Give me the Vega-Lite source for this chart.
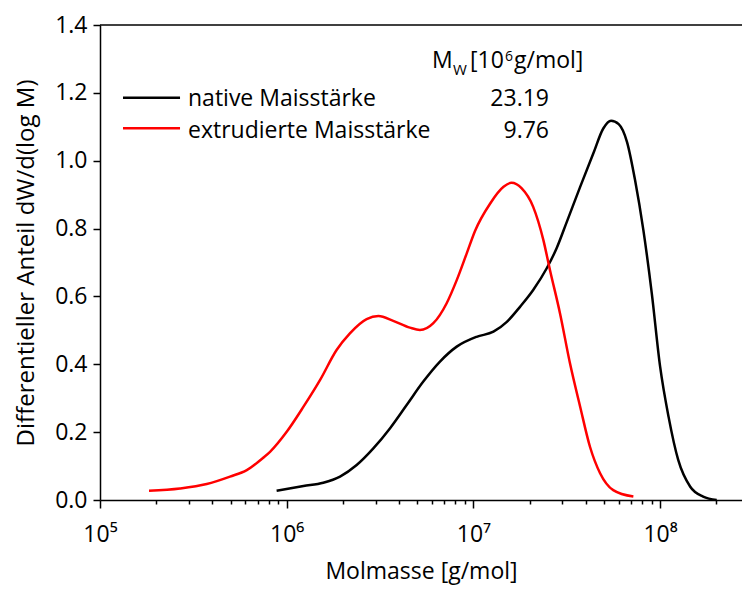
{
  "$schema": "https://vega.github.io/schema/vega-lite/v6.json",
  "width": 642,
  "height": 475,
  "autosize": {"type": "none"},
  "padding": {"left": 100, "top": 25, "right": 0, "bottom": 91},
  "background": "white",
  "config": {
    "view": {"stroke": null},
    "font": "Open Sans",
    "axis": {"grid": false, "domainColor": "black", "domainWidth": 1.5, "tickColor": "black", "tickWidth": 1.5, "labelColor": "black", "titleColor": "black", "titleFontWeight": "normal", "labelFontSize": 23, "titleFontSize": 23},
    "text": {"font": "Open Sans", "fontSize": 23, "color": "black"}
  },
  "datasets": {
    "curves": [
      {"Probe": "native Maisstärke", "M": 883000, "w": 0.027},
      {"Probe": "native Maisstärke", "M": 1230000, "w": 0.041},
      {"Probe": "native Maisstärke", "M": 1570000, "w": 0.051},
      {"Probe": "native Maisstärke", "M": 1930000, "w": 0.069},
      {"Probe": "native Maisstärke", "M": 2370000, "w": 0.103},
      {"Probe": "native Maisstärke", "M": 2910000, "w": 0.152},
      {"Probe": "native Maisstärke", "M": 3570000, "w": 0.211},
      {"Probe": "native Maisstärke", "M": 4390000, "w": 0.28},
      {"Probe": "native Maisstärke", "M": 5390000, "w": 0.349},
      {"Probe": "native Maisstärke", "M": 6620000, "w": 0.408},
      {"Probe": "native Maisstärke", "M": 8140000, "w": 0.452},
      {"Probe": "native Maisstärke", "M": 10400000, "w": 0.481},
      {"Probe": "native Maisstärke", "M": 12800000, "w": 0.496},
      {"Probe": "native Maisstärke", "M": 15100000, "w": 0.525},
      {"Probe": "native Maisstärke", "M": 17800000, "w": 0.57},
      {"Probe": "native Maisstärke", "M": 20900000, "w": 0.619},
      {"Probe": "native Maisstärke", "M": 24700000, "w": 0.683},
      {"Probe": "native Maisstärke", "M": 27900000, "w": 0.742},
      {"Probe": "native Maisstärke", "M": 31600000, "w": 0.819},
      {"Probe": "native Maisstärke", "M": 37300000, "w": 0.923},
      {"Probe": "native Maisstärke", "M": 43900000, "w": 1.022},
      {"Probe": "native Maisstärke", "M": 49600000, "w": 1.095},
      {"Probe": "native Maisstärke", "M": 54600000, "w": 1.118},
      {"Probe": "native Maisstärke", "M": 60000000, "w": 1.108},
      {"Probe": "native Maisstärke", "M": 66500000, "w": 1.055},
      {"Probe": "native Maisstärke", "M": 73400000, "w": 0.943},
      {"Probe": "native Maisstärke", "M": 81300000, "w": 0.796},
      {"Probe": "native Maisstärke", "M": 90200000, "w": 0.61},
      {"Probe": "native Maisstärke", "M": 100000000, "w": 0.393},
      {"Probe": "native Maisstärke", "M": 111000000, "w": 0.245},
      {"Probe": "native Maisstärke", "M": 125000000, "w": 0.118},
      {"Probe": "native Maisstärke", "M": 145000000, "w": 0.039},
      {"Probe": "native Maisstärke", "M": 170000000, "w": 0.01},
      {"Probe": "native Maisstärke", "M": 201000000, "w": 0.0},
      {"Probe": "extrudierte Maisstärke", "M": 183000, "w": 0.027},
      {"Probe": "extrudierte Maisstärke", "M": 268000, "w": 0.034},
      {"Probe": "extrudierte Maisstärke", "M": 373000, "w": 0.047},
      {"Probe": "extrudierte Maisstärke", "M": 497000, "w": 0.069},
      {"Probe": "extrudierte Maisstärke", "M": 611000, "w": 0.088},
      {"Probe": "extrudierte Maisstärke", "M": 747000, "w": 0.124},
      {"Probe": "extrudierte Maisstärke", "M": 814000, "w": 0.142},
      {"Probe": "extrudierte Maisstärke", "M": 1000000, "w": 0.201},
      {"Probe": "extrudierte Maisstärke", "M": 1230000, "w": 0.275},
      {"Probe": "extrudierte Maisstärke", "M": 1510000, "w": 0.354},
      {"Probe": "extrudierte Maisstärke", "M": 1850000, "w": 0.442},
      {"Probe": "extrudierte Maisstärke", "M": 2180000, "w": 0.491},
      {"Probe": "extrudierte Maisstärke", "M": 2680000, "w": 0.533},
      {"Probe": "extrudierte Maisstärke", "M": 3100000, "w": 0.542},
      {"Probe": "extrudierte Maisstärke", "M": 3720000, "w": 0.528},
      {"Probe": "extrudierte Maisstärke", "M": 4570000, "w": 0.508},
      {"Probe": "extrudierte Maisstärke", "M": 5170000, "w": 0.501},
      {"Probe": "extrudierte Maisstärke", "M": 6100000, "w": 0.521},
      {"Probe": "extrudierte Maisstärke", "M": 7190000, "w": 0.58},
      {"Probe": "extrudierte Maisstärke", "M": 8140000, "w": 0.648},
      {"Probe": "extrudierte Maisstärke", "M": 9210000, "w": 0.727},
      {"Probe": "extrudierte Maisstärke", "M": 10200000, "w": 0.793},
      {"Probe": "extrudierte Maisstärke", "M": 12300000, "w": 0.874},
      {"Probe": "extrudierte Maisstärke", "M": 14500000, "w": 0.923},
      {"Probe": "extrudierte Maisstärke", "M": 16000000, "w": 0.935},
      {"Probe": "extrudierte Maisstärke", "M": 18100000, "w": 0.919},
      {"Probe": "extrudierte Maisstärke", "M": 20900000, "w": 0.864},
      {"Probe": "extrudierte Maisstärke", "M": 23700000, "w": 0.766},
      {"Probe": "extrudierte Maisstärke", "M": 25700000, "w": 0.678},
      {"Probe": "extrudierte Maisstärke", "M": 29100000, "w": 0.55},
      {"Probe": "extrudierte Maisstärke", "M": 32900000, "w": 0.403},
      {"Probe": "extrudierte Maisstärke", "M": 37300000, "w": 0.275},
      {"Probe": "extrudierte Maisstärke", "M": 42100000, "w": 0.157},
      {"Probe": "extrudierte Maisstärke", "M": 47700000, "w": 0.079},
      {"Probe": "extrudierte Maisstärke", "M": 56100000, "w": 0.029},
      {"Probe": "extrudierte Maisstärke", "M": 71900000, "w": 0.01}
    ]
  },
  "layer": [
    {
      "data": {"name": "curves"},
      "mark": {"type": "line", "strokeWidth": 2.5, "interpolate": "monotone"},
      "encoding": {
        "x": {
          "field": "M", "type": "quantitative",
          "scale": {"type": "log", "domain": [100000, 274500000], "nice": false},
          "axis": {
            "title": "Molmasse [g/mol]",
            "values": [100000, 200000, 300000, 400000, 500000, 600000, 700000, 800000, 900000, 1000000, 2000000, 3000000, 4000000, 5000000, 6000000, 7000000, 8000000, 9000000, 10000000, 20000000, 30000000, 40000000, 50000000, 60000000, 70000000, 80000000, 90000000, 100000000, 200000000],
            "labelExpr": "datum.value==100000 ? '10⁵' : datum.value==1000000 ? '10⁶' : datum.value==10000000 ? '10⁷' : datum.value==100000000 ? '10⁸' : ''",
            "tickSize": {"condition": {"test": "datum.value==100000 || datum.value==1000000 || datum.value==10000000 || datum.value==100000000", "value": 8}, "value": 4},
            "labelPadding": 15,
            "labelFlush": false,
            "labelOverlap": false,
            "titlePadding": 14
          }
        },
        "y": {
          "field": "w", "type": "quantitative",
          "scale": {"domain": [0, 1.4], "nice": false},
          "axis": {
            "title": "Differentieller Anteil dW/d(log M)",
            "titleFontSize": 24,
            "values": [0, 0.1, 0.2, 0.3, 0.4, 0.5, 0.6, 0.7, 0.8, 0.9, 1.0, 1.1, 1.2, 1.3, 1.4],
            "labelExpr": "round(datum.value*10) % 2 == 0 ? format(datum.value, '.1f') : ''",
            "tickSize": {"condition": {"test": "round(datum.value*10) % 2 == 0", "value": 7}, "value": 4},
            "labelPadding": 6,
            "labelFlush": false,
            "labelOverlap": false,
            "titlePadding": 16
          }
        },
        "color": {
          "field": "Probe", "type": "nominal",
          "scale": {"domain": ["native Maisstärke", "extrudierte Maisstärke"], "range": ["#000000", "#ff0000"]},
          "legend": null
        }
      }
    },
    {
      "data": {"values": [{}]},
      "mark": {"type": "rule", "color": "black", "strokeWidth": 1.5},
      "encoding": {"y": {"datum": 1.4}}
    },
    {
      "data": {"values": [{}]},
      "mark": {"type": "rule", "color": "#000000", "strokeWidth": 2.5},
      "encoding": {"x": {"datum": 132800}, "x2": {"datum": 268300}, "y": {"datum": 1.1857}}
    },
    {
      "data": {"values": [{}]},
      "mark": {"type": "rule", "color": "#ff0000", "strokeWidth": 2.5},
      "encoding": {"x": {"datum": 132800}, "x2": {"datum": 268300}, "y": {"datum": 1.0955}}
    },
    {
      "data": {"values": [{}]},
      "mark": {"type": "text", "align": "left", "baseline": "alphabetic"},
      "encoding": {"x": {"datum": 296000}, "y": {"datum": 1.1603}, "text": {"value": "native Maisstärke"}}
    },
    {
      "data": {"values": [{}]},
      "mark": {"type": "text", "align": "left", "baseline": "alphabetic"},
      "encoding": {"x": {"datum": 296000}, "y": {"datum": 1.066}, "text": {"value": "extrudierte Maisstärke"}}
    },
    {
      "data": {"values": [{}]},
      "mark": {"type": "text", "align": "right", "baseline": "alphabetic"},
      "encoding": {"x": {"datum": 25400000}, "y": {"datum": 1.1603}, "text": {"value": "23.19"}}
    },
    {
      "data": {"values": [{}]},
      "mark": {"type": "text", "align": "right", "baseline": "alphabetic"},
      "encoding": {"x": {"datum": 25400000}, "y": {"datum": 1.066}, "text": {"value": "9.76"}}
    },
    {
      "data": {"values": [{}]},
      "mark": {"type": "text", "align": "left", "baseline": "alphabetic"},
      "encoding": {"x": {"datum": 6000000}, "y": {"datum": 1.2723}, "text": {"value": "M"}}
    },
    {
      "data": {"values": [{}]},
      "mark": {"type": "text", "align": "left", "baseline": "alphabetic", "fontSize": 15, "dx": 21, "dy": 7},
      "encoding": {"x": {"datum": 6000000}, "y": {"datum": 1.2723}, "text": {"value": "W"}}
    },
    {
      "data": {"values": [{}]},
      "mark": {"type": "text", "align": "left", "baseline": "alphabetic", "dx": 38},
      "encoding": {"x": {"datum": 6000000}, "y": {"datum": 1.2723}, "text": {"value": "[10"}}
    },
    {
      "data": {"values": [{}]},
      "mark": {"type": "text", "align": "left", "baseline": "alphabetic", "fontSize": 14, "dx": 73, "dy": -7},
      "encoding": {"x": {"datum": 6000000}, "y": {"datum": 1.2723}, "text": {"value": "6"}}
    },
    {
      "data": {"values": [{}]},
      "mark": {"type": "text", "align": "left", "baseline": "alphabetic", "dx": 82},
      "encoding": {"x": {"datum": 6000000}, "y": {"datum": 1.2723}, "text": {"value": "g/mol]"}}
    }
  ]
}
